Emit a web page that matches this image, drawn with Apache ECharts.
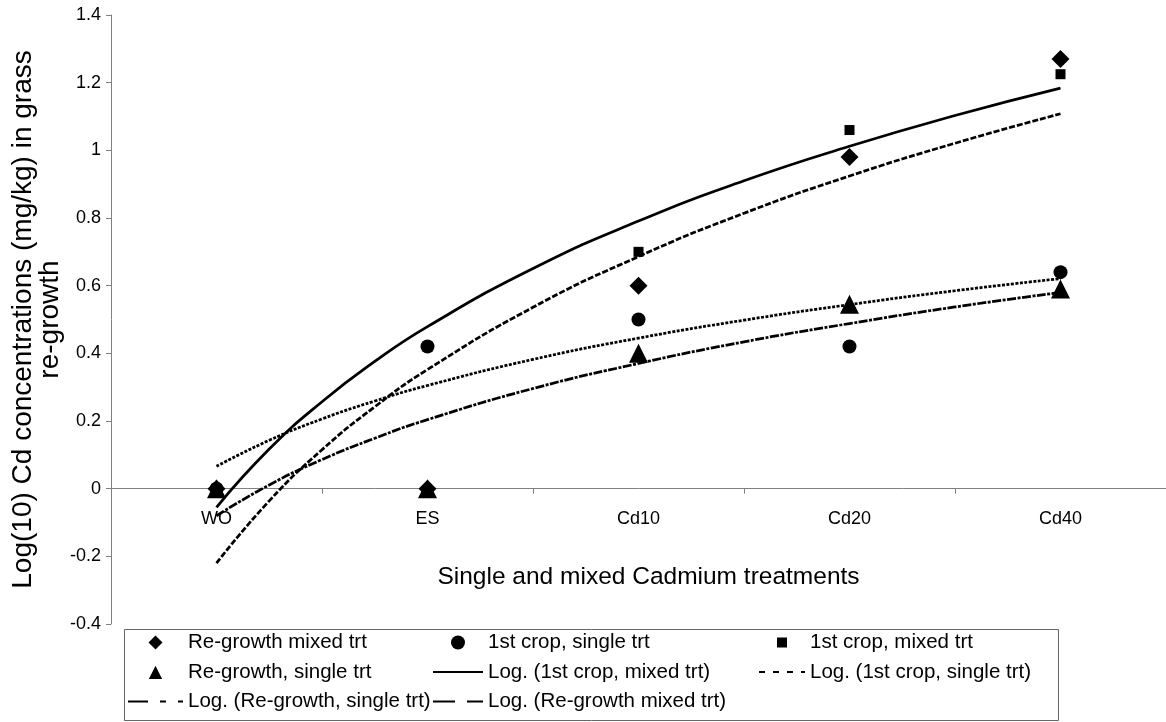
<!DOCTYPE html>
<html>
<head>
<meta charset="utf-8">
<title>Cd concentrations in grass</title>
<script src="https://cdn.jsdelivr.net/npm/echarts@6/dist/echarts.min.js"></script>
<style>
  html, body { margin: 0; padding: 0; background: #fff; }
  #chart { width: 1166px; height: 722px; }
</style>
</head>
<body>
<div id="chart"></div>
<script>
// categories on the x axis
const categories = ['WO', 'ES', 'Cd10', 'Cd20', 'Cd40'];

// measured points, log10 Cd (mg/kg)
const regrowthMixed = [0, 0, 0.60, 0.98, 1.27];
const cropSingle = [0, 0.42, 0.50, 0.42, 0.64];
const cropMixed = [0, 0.42, 0.70, 1.06, 1.225];
const regrowthSingle = [0, 0, 0.40, 0.545, 0.59];

// log trendlines, values at these category positions
const trendX = [1, 1.25, 1.5, 1.75, 2, 2.5, 3, 3.5, 4, 4.5, 5];
const trendCropMixed = [-0.055, 0.117, 0.257, 0.376, 0.479, 0.651, 0.791, 0.910, 1.012, 1.103, 1.184];
const trendCropSingle = [0.066, 0.143, 0.206, 0.259, 0.305, 0.382, 0.445, 0.498, 0.544, 0.585, 0.621];
const trendRegrowthSingle = [-0.08, 0.011, 0.086, 0.149, 0.204, 0.296, 0.370, 0.434, 0.488, 0.537, 0.580];
const trendRegrowthMixed = [-0.220, -0.036, 0.115, 0.242, 0.352, 0.536, 0.686, 0.814, 0.924, 1.021, 1.108];

const FONT = "'Liberation Sans', Arial, sans-serif";
const AXIS_GREY = '#808080';

// y range of the plot, the x axis sits on zero
const Y_MIN = -0.4, Y_MAX = 1.4;
const GRID_TOP = 15, GRID_BOTTOM = 98, HEIGHT = 722;
const plotH = HEIGHT - GRID_TOP - GRID_BOTTOM;
const zeroFromBottom = plotH * (0 - Y_MIN) / (Y_MAX - Y_MIN);

// legend markers as paths so they keep their aspect inside the wide icon box
const ICON_DIAMOND = 'path://M0,-1L1,0L0,1L-1,0Z';
const ICON_TRIANGLE = 'path://M-0.05,-1.1M0,-1L1,1L-1,1Z';
const ICON_SQUARE = 'path://M-0.2,-0.2M1.2,1.2M0,0H1V1H0Z';

function pairs(xs, ys) {
    return xs.map((x, i) => [x, ys[i]]);
}

function scatter(name, data, symbol, size) {
    return {
        name: name,
        type: 'scatter',
        data: data,
        symbol: symbol,
        symbolSize: size,
        itemStyle: { color: '#000', opacity: 1 },
        xAxisIndex: 0,
        yAxisIndex: 0,
        z: 3
    };
}

function trend(name, ys, dash) {
    return {
        name: name,
        type: 'line',
        data: pairs(trendX, ys),
        xAxisIndex: 1,
        yAxisIndex: 0,
        smooth: true,
        symbol: 'none',
        lineStyle: { color: '#000', width: 2.75, type: dash },
        itemStyle: { color: '#000' },
        z: 4
    };
}

// legend entry for a trendline: hide the dot that ECharts puts on the line icon
function lineItem(name, dash) {
    const item = { name: name, itemStyle: { opacity: 0 } };
    if (dash) item.lineStyle = { type: dash };
    return item;
}

const legendBase = {
    orient: 'vertical',
    top: 632,
    padding: 0,
    itemHeight: 14,
    itemGap: 8.5,
    symbolKeepAspect: true,
    selectedMode: false,
    textStyle: { fontFamily: FONT, fontSize: 20.5, lineHeight: 20, color: '#000' }
};

const chart = echarts.init(document.getElementById('chart'), null, { renderer: 'canvas' });

chart.setOption({
    backgroundColor: '#fff',
    animation: false,
    grid: { left: 111, right: 0, top: GRID_TOP, bottom: GRID_BOTTOM },
    xAxis: [{
        type: 'category',
        data: categories,
        boundaryGap: true,
        position: 'bottom',
        offset: -zeroFromBottom,
        axisLine: { onZero: false, lineStyle: { color: AXIS_GREY, width: 1 } },
        axisTick: { show: true, length: 5, lineStyle: { color: AXIS_GREY } },
        axisLabel: { color: '#000', fontFamily: FONT, fontSize: 18, margin: 21 },
        splitLine: { show: false },
        name: 'Single and mixed Cadmium treatments',
        nameLocation: 'middle',
        nameGap: 76,
        nameMoveOverlap: false,
        nameTextStyle: { color: '#000', fontFamily: FONT, fontSize: 24.5, padding: [0, 0, 0, 20] }
    }, {
        type: 'value',
        min: 0.5,
        max: 5.5,
        show: false
    }],
    yAxis: [{
        type: 'value',
        min: Y_MIN,
        max: Y_MAX,
        interval: 0.2,
        axisLine: { show: true, lineStyle: { color: AXIS_GREY, width: 1 } },
        axisTick: { show: true, length: 5, lineStyle: { color: AXIS_GREY } },
        axisLabel: {
            color: '#000', fontFamily: FONT, fontSize: 18, margin: 10,
            formatter: v => String(Math.round(v * 10) / 10)
        },
        splitLine: { show: false },
        name: 'Log(10) Cd concentrations (mg/kg) in grass\nre-growth',
        nameLocation: 'middle',
        nameGap: 47,
        nameMoveOverlap: false,
        nameTextStyle: { color: '#000', fontFamily: FONT, fontSize: 28, lineHeight: 27 }
    }],
    legend: [
        Object.assign({}, legendBase, {
            left: 127, itemWidth: 55,
            data: [
                { name: 'Re-growth mixed trt', icon: ICON_DIAMOND },
                { name: 'Re-growth, single trt', icon: ICON_TRIANGLE },
                lineItem('Log. (Re-growth, single trt)', [20, 12, 6, 12])
            ]
        }),
        Object.assign({}, legendBase, {
            left: 432, itemWidth: 50,
            data: [
                { name: '1st crop, single trt', icon: 'circle' },
                lineItem('Log. (1st crop, mixed trt)'),
                lineItem('Log. (Re-growth mixed trt)', [22, 12])
            ]
        }),
        Object.assign({}, legendBase, {
            left: 758, itemWidth: 46,
            data: [
                { name: '1st crop, mixed trt', icon: ICON_SQUARE },
                lineItem('Log. (1st crop, single trt)', [6, 8])
            ]
        })
    ],
    graphic: [{
        type: 'rect',
        shape: { x: 124.5, y: 629.5, width: 934, height: 91 },
        style: { fill: 'transparent', stroke: '#666', lineWidth: 1 },
        z: -1,
        silent: true
    }],
    series: [
        scatter('1st crop, single trt', cropSingle, 'circle', 14),
        scatter('1st crop, mixed trt', cropMixed, 'rect', 10),
        scatter('Re-growth mixed trt', regrowthMixed, 'diamond', 18),
        scatter('Re-growth, single trt', regrowthSingle, 'triangle', 19),
        trend('Log. (1st crop, mixed trt)', trendCropMixed, 'solid'),
        trend('Log. (1st crop, single trt)', trendCropSingle, [3, 1.5]),
        trend('Log. (Re-growth, single trt)', trendRegrowthSingle, [9, 1.5, 3, 1.5]),
        trend('Log. (Re-growth mixed trt)', trendRegrowthMixed, [6, 2])
    ]
});
</script>
</body>
</html>
